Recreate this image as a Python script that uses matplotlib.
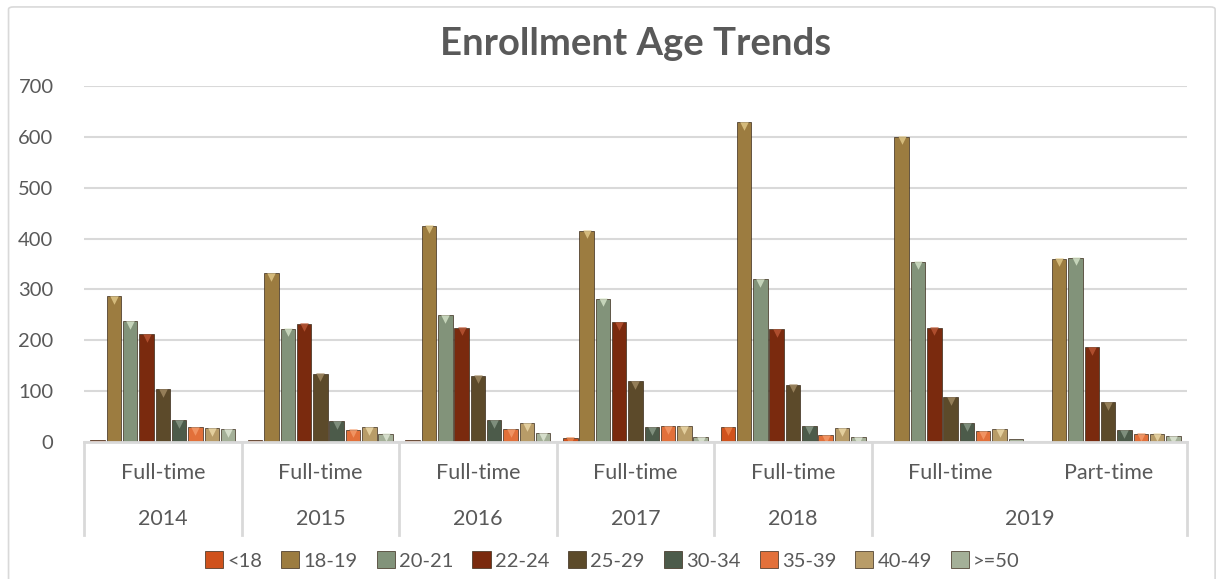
import matplotlib
matplotlib.use('Agg')
import matplotlib.pyplot as plt
import matplotlib.transforms as mtransforms
from matplotlib.patches import FancyBboxPatch
import numpy as np

plt.rcParams['font.family'] = ['Lato', 'DejaVu Sans']

# categories (two-level axis)
types = ['Full-time', 'Full-time', 'Full-time', 'Full-time', 'Full-time', 'Full-time', 'Part-time']
years = ['2014', '2015', '2016', '2017', '2018', '2019', '2019']
age_groups = ['<18', '18-19', '20-21', '22-24', '25-29', '30-34', '35-39', '40-49', '>=50']

# one list per age group, values per category
lt18 = [3, 3, 4, 8, 29, 0, 0]
a18_19 = [287, 332, 425, 415, 629, 600, 360]
a20_21 = [237, 223, 249, 282, 320, 354, 362]
a22_24 = [212, 232, 225, 235, 222, 225, 186]
a25_29 = [104, 134, 130, 119, 113, 88, 78]
a30_34 = [43, 41, 43, 29, 31, 37, 23]
a35_39 = [29, 24, 25, 31, 13, 21, 16]
a40_49 = [27, 29, 37, 31, 27, 25, 16]
ge50 = [25, 16, 17, 9, 9, 5, 11]

series = [lt18, a18_19, a20_21, a22_24, a25_29, a30_34, a35_39, a40_49, ge50]
colors = ['#D0521C', '#9C7C40', '#82937A', '#7A2A0E', '#5C4A2A', '#4C5B4A',
          '#E2703A', '#B89C68', '#A4B098']
tops = ['#F08A50', '#E8D090', '#DDEBD0', '#C05A38', '#A89068', '#90A08E',
        '#F5A070', '#F2E0B0', '#E6EEDD']

fig = plt.figure(figsize=(12.2, 5.79), dpi=100)
ax = fig.add_axes([0.0689, 0.2366, 0.904, 0.615])

# chart border
fig.patches.append(FancyBboxPatch((0.007, -0.02), 0.989, 1.008,
                                  boxstyle='round,pad=0,rounding_size=0.004',
                                  transform=fig.transFigure, facecolor='none',
                                  edgecolor='#D9D9D9', linewidth=1.2))

x = np.arange(len(types))
pitch = 0.1035
width = 0.092
tri = mtransforms.offset_copy(ax.transData, fig=fig, x=0, y=-3.5, units='dots')
for i, (vals, c, tc, lab) in enumerate(zip(series, colors, tops, age_groups)):
    xs = x + (i - 4) * pitch
    ax.bar(xs, vals, width, color=c, edgecolor='#3a2a1a', linewidth=0.5,
           label=lab, zorder=3)
    v = np.array(vals)
    m = v > 6
    ax.scatter(xs[m], v[m], marker='v', s=38, color=tc, alpha=0.75,
               linewidths=0, transform=tri, zorder=4)

ax.set_xlim(-0.5, len(types) - 0.5)
ax.set_ylim(0, 700)
ax.set_yticks(range(0, 701, 100))
ax.tick_params(axis='y', length=0, pad=22, labelsize=14.5, labelcolor='#595959')
ax.set_xticks([])
ax.grid(axis='y', color='#D9D9D9', linewidth=1.5, zorder=0)
for s in ['top', 'right', 'left']:
    ax.spines[s].set_visible(False)
ax.spines['bottom'].set_color('#D9D9D9')
ax.spines['bottom'].set_linewidth(2)
ax.spines['bottom'].set_zorder(5)

# two-level category axis
blend = mtransforms.blended_transform_factory(ax.transData, ax.transAxes)
row1_y = -0.088
row2_y = -0.217
line_bottom = -0.262
for xi, t in zip(x, types):
    ax.text(xi, row1_y, t, transform=blend, ha='center', va='center',
            fontsize=15.5, color='#595959')
year_pos = {}
for xi, yr in zip(x, years):
    year_pos.setdefault(yr, []).append(xi)
for yr, pos in year_pos.items():
    ax.text(np.mean(pos), row2_y, yr, transform=blend, ha='center', va='center',
            fontsize=15.5, color='#595959')
bounds = [-0.5] + [max(p) + 0.5 for p in year_pos.values()]
for b in bounds:
    ax.plot([b, b], [0, line_bottom], transform=blend, color='#D9D9D9',
            linewidth=2, clip_on=False, zorder=1)

ax.set_title('Enrollment Age Trends', fontsize=27.5, fontweight='bold',
             color='#595959', pad=22)

leg = fig.legend(loc='center', bbox_to_anchor=(0.502, 0.032), ncol=9,
                 frameon=False, fontsize=14.5, handlelength=0.9, handleheight=0.9,
                 handletextpad=0.2, columnspacing=0.95)
for t in leg.get_texts():
    t.set_color('#595959')

fig.savefig('out.png', dpi=100)
